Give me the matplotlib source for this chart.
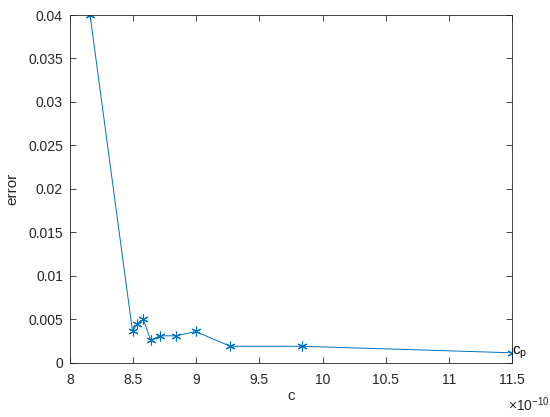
import numpy as np
from matplotlib import pyplot as plt

# values (c in units of 1e-10)
c_vals = [8.16, 8.496, 8.533, 8.581, 8.64, 8.713, 8.84, 8.995, 9.27, 9.834, 11.5]
error_vals = [0.04, 0.0036, 0.0045, 0.0050, 0.0026, 0.0031, 0.0031, 0.0036, 0.0019, 0.0019, 0.00115]
x_ticks = [8, 8.5, 9, 9.5, 10, 10.5, 11, 11.5]
x_ticklabels = ['8', '8.5', '9', '9.5', '10', '10.5', '11', '11.5']
y_ticks = [0, 0.005, 0.01, 0.015, 0.02, 0.025, 0.03, 0.035, 0.04]
y_ticklabels = ['0', '0.005', '0.01', '0.015', '0.02', '0.025', '0.03', '0.035', '0.04']

plt.rcParams['font.family'] = ['Liberation Sans', 'DejaVu Sans']
plt.rcParams['mathtext.fontset'] = 'custom'
plt.rcParams['mathtext.rm'] = 'Liberation Sans'
plt.rcParams['mathtext.it'] = 'Liberation Sans:italic'

line_color = (0, 0.447, 0.741)
axis_color = (0.15, 0.15, 0.15)

fig = plt.figure(figsize=(5.5, 4.17), dpi=100)
ax = fig.add_axes([0.127, 0.130, 0.804, 0.834])

# asterisk marker like MATLAB's '*'
ax.plot(c_vals, error_vals, color=line_color, linewidth=0.7, marker=(6, 2, 0),
        markersize=7, markeredgewidth=0.8)

ax.set_xlim(8, 11.5)
ax.set_ylim(0, 0.04)
ax.set_xticks(x_ticks)
ax.set_xticklabels(x_ticklabels)
ax.set_yticks(y_ticks)
ax.set_yticklabels(y_ticklabels)

# MATLAB-like axes: box, inward ticks, dark gray
for s in ax.spines.values():
    s.set_color(axis_color)
    s.set_linewidth(0.6)
ax.tick_params(direction='in', length=4, width=0.6, colors=axis_color, labelsize=10,
               top=True, right=True, labeltop=False, labelright=False)
ax.tick_params(axis='x', pad=7)
ax.tick_params(axis='y', pad=5)

ax.set_xlabel('c', fontsize=11, color=axis_color, labelpad=2)
ax.set_ylabel('error', fontsize=11, color=axis_color, labelpad=6)

# exponent label, as MATLAB shows it
ax.text(0.99, -0.095, r'$\times$10$^{-10}$', transform=ax.transAxes, fontsize=10,
        color=axis_color, ha='left', va='top')

ax.text(c_vals[-1], error_vals[-1], r'c$_\mathrm{p}$', fontsize=11, color='black',
        va='center', ha='left', clip_on=False)

fig.savefig('out.png', dpi=100)
